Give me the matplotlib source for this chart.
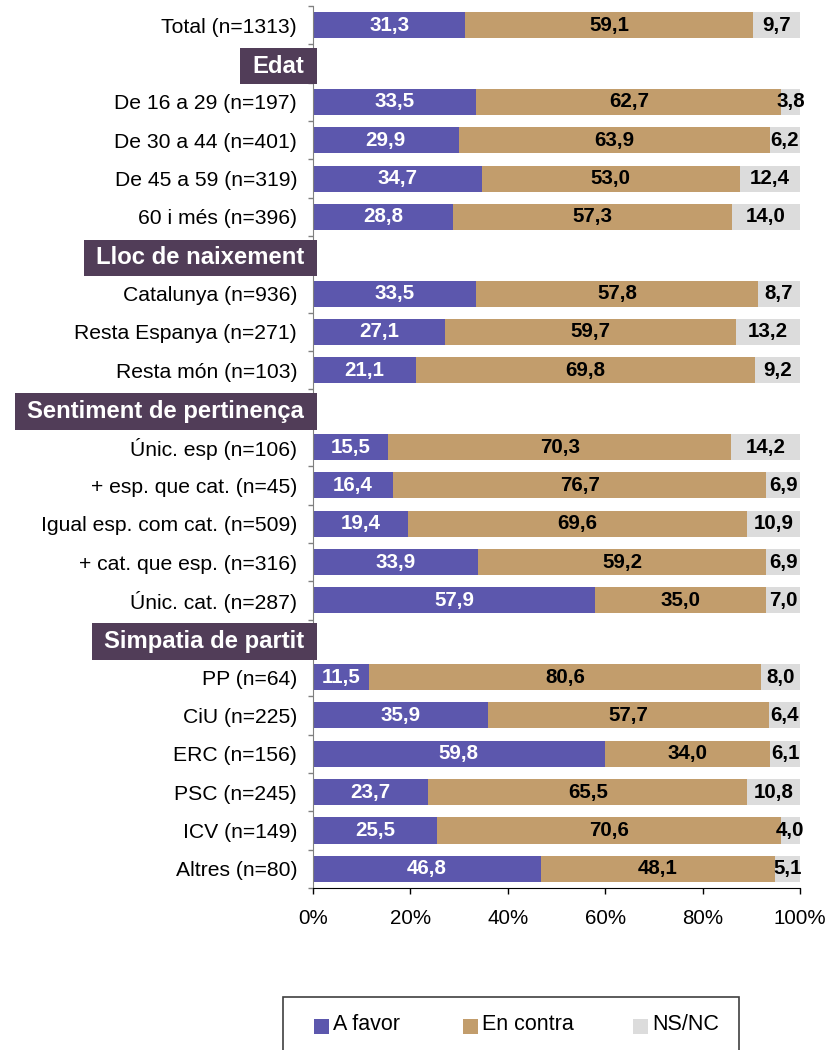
import matplotlib
matplotlib.use('Agg')
import matplotlib.pyplot as plt
from matplotlib.patches import Rectangle
from matplotlib.transforms import blended_transform_factory
import numpy as np

plt.rcParams['font.family'] = ['Liberation Sans', 'DejaVu Sans']

series = ['A favor', 'En contra', 'NS/NC']
colors = ['#5C57AD', '#C29D6C', '#DCDCDC']
text_colors = ['white', 'black', 'black']

header_labels = ['Edat', 'Lloc de naixement', 'Sentiment de pertinença', 'Simpatia de partit']

row_labels = [
    'Total (n=1313)',
    'Edat',
    'De 16 a 29 (n=197)', 'De 30 a 44 (n=401)', 'De 45 a 59 (n=319)', '60 i més (n=396)',
    'Lloc de naixement',
    'Catalunya (n=936)', 'Resta Espanya (n=271)', 'Resta món (n=103)',
    'Sentiment de pertinença',
    'Únic. esp (n=106)', '+ esp. que cat. (n=45)', 'Igual esp. com cat. (n=509)',
    '+ cat. que esp. (n=316)', 'Únic. cat. (n=287)',
    'Simpatia de partit',
    'PP (n=64)', 'CiU (n=225)', 'ERC (n=156)', 'PSC (n=245)', 'ICV (n=149)', 'Altres (n=80)',
]

nan = np.nan
a_favor = [31.3, nan, 33.5, 29.9, 34.7, 28.8, nan, 33.5, 27.1, 21.1, nan,
           15.5, 16.4, 19.4, 33.9, 57.9, nan, 11.5, 35.9, 59.8, 23.7, 25.5, 46.8]
en_contra = [59.1, nan, 62.7, 63.9, 53.0, 57.3, nan, 57.8, 59.7, 69.8, nan,
             70.3, 76.7, 69.6, 59.2, 35.0, nan, 80.6, 57.7, 34.0, 65.5, 70.6, 48.1]
ns_nc = [9.7, nan, 3.8, 6.2, 12.4, 14.0, nan, 8.7, 13.2, 9.2, nan,
         14.2, 6.9, 10.9, 6.9, 7.0, nan, 8.0, 6.4, 6.1, 10.8, 4.0, 5.1]

W, H = 838, 1050
fig = plt.figure(figsize=(W / 100, H / 100), dpi=100)
ax_l, ax_r, ax_t, ax_b = 313, 800, 6, 888
ax = fig.add_axes([ax_l / W, 1 - ax_b / H, (ax_r - ax_l) / W, (ax_b - ax_t) / H])

n = len(row_labels)
ypos = np.arange(n)
vals = np.array([a_favor, en_contra, ns_nc], dtype=float)
data_rows = [i for i in range(n) if row_labels[i] not in header_labels]

tot = np.nansum(vals, axis=0)
left = np.zeros(n)
for k in range(3):
    norm = np.where(np.isnan(vals[k]), 0, vals[k] / np.where(tot == 0, 1, tot) * 100)
    ax.barh(ypos[data_rows], norm[data_rows], left=left[data_rows], height=0.68,
            color=colors[k], edgecolor='none', label=series[k], zorder=2)
    for i in data_rows:
        ax.text(left[i] + norm[i] / 2, i, f"{vals[k][i]:.1f}".replace('.', ','),
                ha='center', va='center', color=text_colors[k], fontsize=14.8,
                fontweight='bold', zorder=3)
    left = left + norm

ax.set_xlim(0, 100)
ax.set_ylim(n - 0.5, -0.5)

ax.set_xticks([0, 20, 40, 60, 80, 100])
ax.set_xticklabels([f"{v}%" for v in [0, 20, 40, 60, 80, 100]])
ax.tick_params(axis='x', length=4.3, width=1, color='black', labelsize=14.8, pad=11)

ax.set_yticks(ypos[data_rows])
ax.set_yticklabels([row_labels[i] for i in data_rows])
ax.tick_params(axis='y', which='major', length=0, labelsize=15.2, pad=11.5)
ax.set_yticks(np.arange(-0.5, n, 1.0), minor=True)
ax.tick_params(axis='y', which='minor', length=3.6, width=1, color='#808080')

for s in ['top', 'right']:
    ax.spines[s].set_visible(False)
ax.spines['left'].set_color('#808080')
ax.spines['bottom'].set_color('black')

# section headers
trans = blended_transform_factory(ax.transAxes, ax.transData)
px = 1.0 / (ax_r - ax_l)
fig.canvas.draw()
renderer = fig.canvas.get_renderer()
for i in range(n):
    if row_labels[i] in header_labels:
        t = ax.text(-9 * px, i + 0.07, row_labels[i], transform=trans, ha='right',
                    va='center', color='white', fontsize=17.2, fontweight='bold',
                    zorder=6, clip_on=False)
        bb = t.get_window_extent(renderer)
        left_ax = (bb.x0 - 12 - ax.bbox.x0) * px
        rect = Rectangle((left_ax, i + 0.07 - 0.475), 4 * px - left_ax, 0.95,
                         transform=trans, facecolor='#513D58', edgecolor='none',
                         zorder=5, clip_on=False)
        ax.add_patch(rect)

# legend (drawn manually, box cut at the bottom edge)
ft = fig.transFigure
fig.add_artist(Rectangle((283 / W, 1 - 1062 / H), (739 - 283) / W, (1062 - 997) / H,
                         transform=ft, facecolor='white', edgecolor='#404040',
                         linewidth=1.2))
leg_x = [314, 463, 633]
for k in range(3):
    fig.add_artist(Rectangle((leg_x[k] / W, 1 - 1034 / H), 15 / W, 15 / H,
                             transform=ft, facecolor=colors[k], edgecolor='none'))
    fig.text((leg_x[k] + 19) / W, 1 - 1024 / H, series[k], ha='left', va='center',
             fontsize=15.5, color='black')

fig.savefig('out.png', dpi=100)
